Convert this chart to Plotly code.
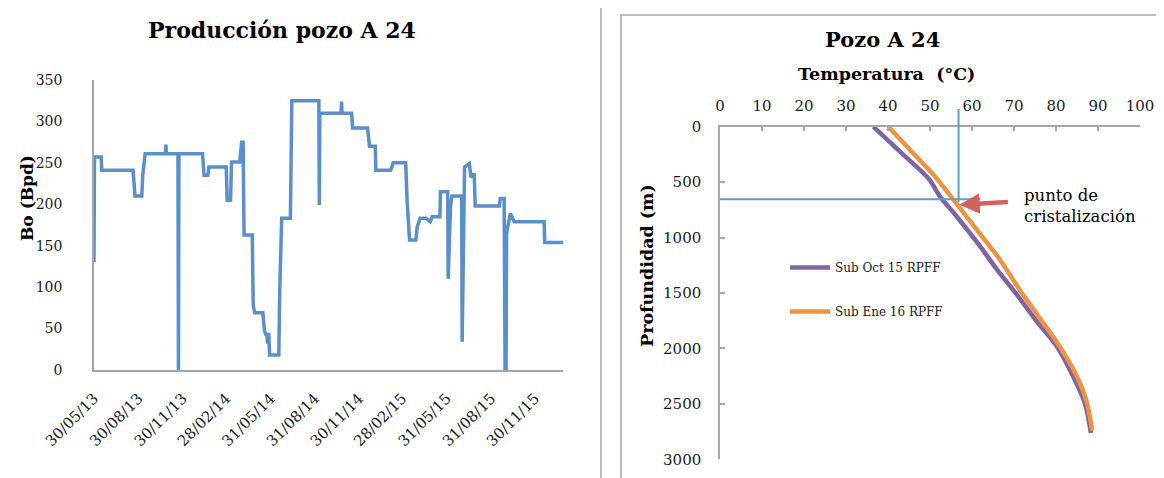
import plotly.graph_objects as go

# page is 1164x478; the browser puts the figure 8px in from the top-left corner
PAGE_W, PAGE_H = 1164, 478
OFF = 8
W, H = PAGE_W - OFF, PAGE_H - OFF

# ---------------- Left chart data: Producción pozo A 24 ----------------
prod_dates = [
    "2013-05-30", "2013-05-31", "2013-06-14", "2013-06-15", "2013-08-19", "2013-08-21",
    "2013-08-23", "2013-09-06", "2013-09-08", "2013-09-13", "2013-10-25", "2013-10-26",
    "2013-10-27", "2013-11-20", "2013-11-21", "2013-11-22", "2014-01-10", "2014-01-13",
    "2014-01-21", "2014-01-23", "2014-02-28", "2014-03-02", "2014-03-09", "2014-03-11",
    "2014-03-28", "2014-04-01", "2014-04-04", "2014-04-06", "2014-04-23", "2014-04-25",
    "2014-04-28", "2014-05-15", "2014-05-18", "2014-05-21", "2014-05-23", "2014-05-25",
    "2014-05-27", "2014-05-29", "2014-06-17", "2014-06-19", "2014-06-22", "2014-06-23",
    "2014-07-11", "2014-07-12", "2014-07-14", "2014-09-08", "2014-09-09", "2014-09-10",
    "2014-10-24", "2014-10-25", "2014-10-26", "2014-11-15", "2014-11-17", "2014-12-18",
    "2014-12-22", "2015-01-03", "2015-01-04", "2015-02-04", "2015-02-09", "2015-03-07",
    "2015-03-10", "2015-03-15", "2015-03-28", "2015-03-31", "2015-04-06", "2015-04-18",
    "2015-04-27", "2015-05-01", "2015-05-17", "2015-05-18", "2015-06-02", "2015-06-03",
    "2015-06-08", "2015-06-11", "2015-07-01", "2015-07-02", "2015-07-07", "2015-07-17",
    "2015-07-20", "2015-07-27", "2015-07-29", "2015-09-17", "2015-09-19", "2015-09-27",
    "2015-09-29", "2015-10-01", "2015-10-02", "2015-10-10", "2015-10-18", "2015-12-19",
    "2015-12-20", "2016-01-27",
]
prod_bpd = [
    130, 257, 257, 241, 241, 229,
    210, 210, 235, 261, 261, 272,
    261, 261, 0, 261, 261, 235,
    235, 245, 245, 205, 205, 251,
    251, 275, 275, 163, 163, 78,
    69, 69, 48, 43, 43, 32,
    45, 18, 18, 98, 159, 183,
    183, 272, 325, 325, 199, 310,
    310, 324, 310, 310, 292, 292,
    270, 270, 241, 241, 250, 250,
    203, 157, 157, 173, 183, 183,
    179, 185, 185, 215, 215, 110,
    199, 210, 210, 34, 245, 249,
    233, 237, 198, 198, 207, 207,
    0, 0, 165, 189, 179, 179,
    154, 154,
]
date_tick_vals = ["2013-05-30", "2013-08-30", "2013-11-30", "2014-02-28", "2014-05-31",
                  "2014-08-31", "2014-11-30", "2015-02-28", "2015-05-31", "2015-08-31",
                  "2015-11-30"]
date_tick_text = ["30/05/13", "30/08/13", "30/11/13", "28/02/14", "31/05/14",
                  "31/08/14", "30/11/14", "28/02/15", "31/05/15", "31/08/15",
                  "30/11/15"]
bpd_ticks = [0, 50, 100, 150, 200, 250, 300, 350]

# ---------------- Right chart data: Pozo A 24 ----------------
oct15_temp = [36.5, 43.0, 49.7, 52.4, 56.4, 62.0, 66.0, 71.0, 75.5, 80.0, 84.3, 87.0, 88.3]
oct15_depth = [0, 230, 470, 630, 812, 1082, 1292, 1530, 1760, 1970, 2270, 2510, 2763]
ene16_temp = [40.1, 45.5, 50.9, 55.6, 61.2, 66.7, 71.5, 76.0, 80.5, 84.8, 87.3, 88.6]
ene16_depth = [0, 220, 436, 661, 932, 1202, 1480, 1720, 1960, 2240, 2480, 2740]
temp_ticks = [0, 10, 20, 30, 40, 50, 60, 70, 80, 90, 100]
depth_ticks = [0, 500, 1000, 1500, 2000, 2500, 3000]
cryst_temp = 56.8
cryst_depth = 655

FONT = "DejaVu Serif"
AXIS_GRAY = "#A6A6A6"


def px(x):
    """page x pixel -> paper fraction"""
    return (x - OFF) / W


def py(y):
    """page y pixel -> paper fraction"""
    return 1 - (y - OFF) / H


fig = go.Figure()

fig.add_trace(go.Scatter(
    x=prod_dates, y=prod_bpd, mode="lines", xaxis="x", yaxis="y",
    line=dict(color="#5B8FCA", width=3.5), showlegend=False, hoverinfo="skip",
))

fig.add_trace(go.Scatter(
    x=oct15_temp, y=oct15_depth, mode="lines", xaxis="x2", yaxis="y2",
    name="Sub Oct 15 RPFF", legendgroup="a",
    line=dict(color="#7F64A2", width=4.5, shape="spline", smoothing=0.8),
))
fig.add_trace(go.Scatter(
    x=ene16_temp, y=ene16_depth, mode="lines", xaxis="x2", yaxis="y2",
    name="Sub Ene 16 RPFF", legendgroup="b",
    line=dict(color="#EC9444", width=4.5, shape="spline", smoothing=0.8),
))

L_DOM_X = [px(94), px(563)]
L_DOM_Y = [py(370), py(80)]
R_DOM_X = [px(720), px(1140)]
R_DOM_Y = [py(459.3), py(126.7)]

fig.update_layout(
    width=W, height=H,
    margin=dict(l=0, r=0, t=0, b=0, autoexpand=False),
    paper_bgcolor="white", plot_bgcolor="white",
    font=dict(family=FONT, color="#1a1a1a"),
    xaxis=dict(
        domain=L_DOM_X, anchor="y", type="date", automargin=False,
        range=["2013-05-30", "2016-01-27"],
        tickmode="array", tickvals=date_tick_vals, ticktext=date_tick_text,
        tickangle=-45, tickfont=dict(size=15, family=FONT),
        showline=True, linecolor=AXIS_GRAY, linewidth=1.5,
        showgrid=False, zeroline=False, ticks="", ticklabelstandoff=12,
    ),
    yaxis=dict(
        domain=L_DOM_Y, anchor="x", range=[0, 350], automargin=False,
        tickmode="array", tickvals=bpd_ticks,
        tickfont=dict(size=14, family=FONT),
        showline=True, linecolor=AXIS_GRAY, linewidth=1.5,
        showgrid=False, zeroline=False, ticks="", ticklabelstandoff=27,
    ),
    xaxis2=dict(
        domain=R_DOM_X, anchor="y2", side="top", range=[0, 100], automargin=False,
        tickmode="array", tickvals=temp_ticks,
        tickfont=dict(size=15, family=FONT),
        showline=True, linecolor=AXIS_GRAY, linewidth=1.5,
        showgrid=False, zeroline=False,
        ticks="inside", ticklen=5, tickcolor=AXIS_GRAY, tickwidth=1.5,
        ticklabelstandoff=8,
    ),
    yaxis2=dict(
        domain=R_DOM_Y, anchor="x2", range=[3000, 0], automargin=False,
        tickmode="array", tickvals=depth_ticks,
        tickfont=dict(size=15, family=FONT),
        showline=True, linecolor=AXIS_GRAY, linewidth=1.5,
        showgrid=False, zeroline=False,
        ticks="inside", ticklen=5, tickcolor=AXIS_GRAY, tickwidth=1.5,
        ticklabelstandoff=14,
    ),
    legend=dict(
        x=px(785), y=py(253), xanchor="left", yanchor="top",
        font=dict(size=12, family=FONT, color="#1a1a1a"),
        bgcolor="rgba(0,0,0,0)", borderwidth=0,
        traceorder="grouped", tracegroupgap=25, itemwidth=40,
    ),
)

# panel frames
fig.add_shape(type="rect", xref="paper", yref="paper",
              x0=px(5), x1=px(601), y0=-0.05, y1=1.05,
              line=dict(color=AXIS_GRAY, width=1.5), layer="below")
fig.add_shape(type="rect", xref="paper", yref="paper",
              x0=px(621), x1=px(1158), y0=-0.05, y1=py(15),
              line=dict(color=AXIS_GRAY, width=1.5), layer="below")

# crystallization reference lines
BLUE = "#5E9BD3"
fig.add_shape(type="line", xref="x2", yref="y2",
              x0=-1, x1=62, y0=cryst_depth, y1=cryst_depth,
              line=dict(color=BLUE, width=2))
dom_h = R_DOM_Y[1] - R_DOM_Y[0]
fig.add_shape(type="line", xref="x2", yref="paper",
              x0=cryst_temp, x1=cryst_temp,
              y0=R_DOM_Y[1] - dom_h * (cryst_depth + 25) / 3000,
              y1=R_DOM_Y[1] + dom_h * 160 / 3000,
              line=dict(color=BLUE, width=2))

# arrow to crystallization point
fig.add_annotation(
    x=cryst_temp + 0.2, y=cryst_depth + 50, xref="x2", yref="y2",
    ax=50, ay=-3, axref="pixel", ayref="pixel",
    text="", showarrow=True, arrowhead=2, arrowsize=0.9, arrowwidth=4.5,
    arrowcolor="#D0625E", standoff=0,
)

annotations = [
    dict(text="<b>Producción pozo A 24</b>", x=px(282), y=py(30), size=22),
    dict(text="<b>Bo (Bpd)</b>", x=px(27), y=py(198), size=17, textangle=-90),
    dict(text="<b>Pozo A 24</b>", x=px(882), y=py(39), size=21),
    dict(text="<b>Temperatura \u00a0(°C)</b>", x=px(886), y=py(74), size=17.5),
    dict(text="<b>Profundidad (m)</b>", x=px(647), y=py(266), size=17.5, textangle=-90),
]
for a in annotations:
    fig.add_annotation(
        text=a["text"], x=a["x"], y=a["y"], xref="paper", yref="paper",
        xanchor="center", yanchor="middle", showarrow=False,
        textangle=a.get("textangle", 0),
        font=dict(family=FONT, size=a["size"], color="#000000"),
    )

fig.add_annotation(
    text="punto de<br>cristalización", x=px(1022), y=py(206),
    xref="paper", yref="paper", xanchor="left", yanchor="middle",
    align="left", showarrow=False,
    font=dict(family=FONT, size=16.5, color="#000000"),
)

fig.write_html("out.html")
